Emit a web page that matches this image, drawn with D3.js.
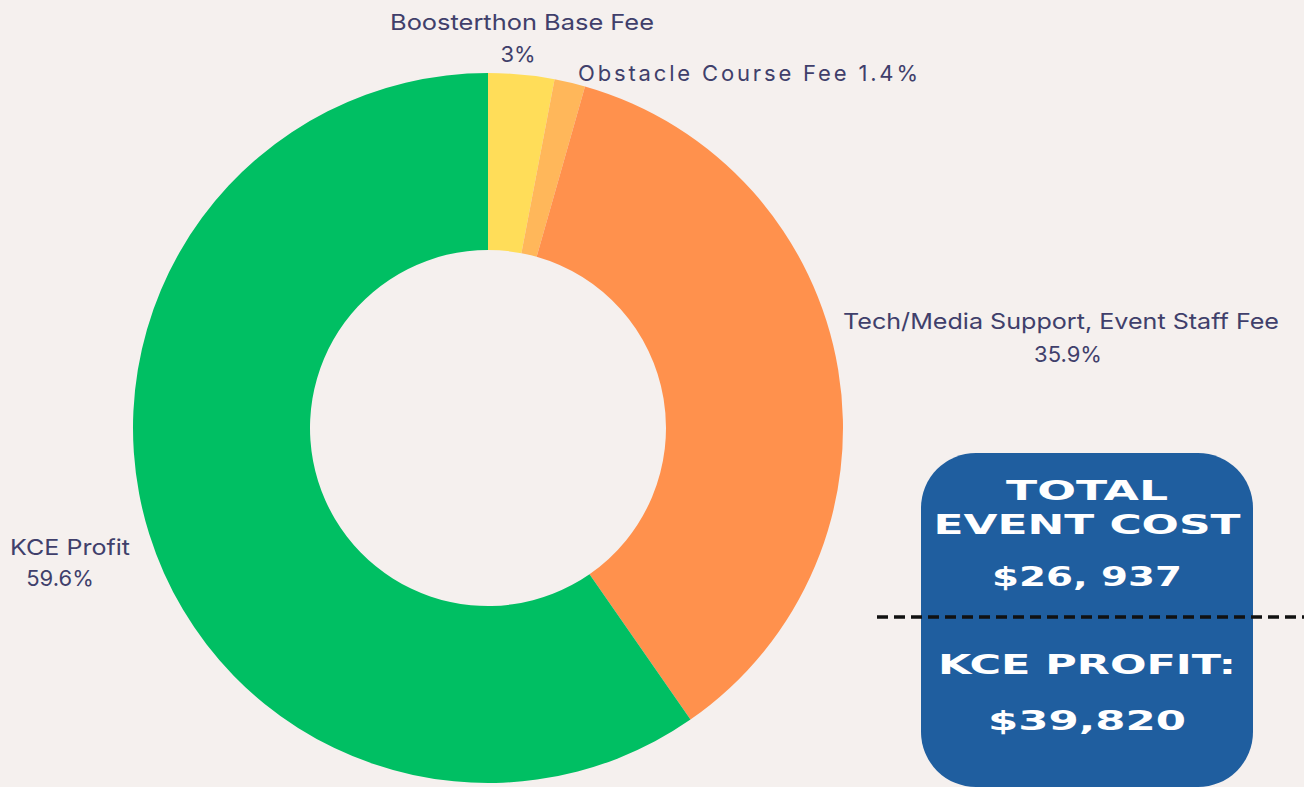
<!DOCTYPE html>
<html lang="en">
<head>
  <meta charset="utf-8">
  <title>Event cost breakdown</title>
  <script src="https://d3js.org/d3.v7.min.js"></script>
  <style>
    html, body { margin: 0; padding: 0; background: #f5f0ee; }
    svg { display: block; }
  </style>
</head>
<body>
  <svg id="chart"></svg>
  <script>
  // slice data, clockwise from 12 o'clock
  const categories = ["Boosterthon Base Fee", "Obstacle Course Fee", "Tech/Media Support, Event Staff Fee", "KCE Profit"];
  const shares = [3, 1.4, 35.9, 59.6];
  const sliceColors = ["#ffdd59", "#ffb75a", "#ff914d", "#00bf63"];

  const summaryLines = ["TOTAL", "EVENT COST", "$26, 937", "KCE PROFIT:", "$39,820"];

  const W = 1304, H = 787;
  const cx = 488, cy = 428, outerR = 355, innerR = 178;
  const labelColor = "#403f6b";

  const svg = d3.select("#chart").attr("width", W).attr("height", H);
  svg.append("rect").attr("width", W).attr("height", H).attr("fill", "#f5f0ee");

  const pie = d3.pie().sort(null).value(d => d);
  const arc = d3.arc().innerRadius(innerR).outerRadius(outerR);
  const color = d3.scaleOrdinal().domain(categories).range(sliceColors);

  const g = svg.append("g").attr("transform", `translate(${cx},${cy})`);
  g.selectAll("path")
    .data(pie(shares))
    .join("path")
    .attr("d", arc)
    .attr("fill", (d, i) => color(categories[i]));

  // slice labels
  const fmt = v => v + "%";
  const labels = svg.append("g")
    .attr("font-family", "Inter, 'Open Sans', sans-serif")
    .attr("fill", labelColor)
    .attr("font-size", 22);

  labels.append("text").attr("x", 522).attr("y", 30).attr("text-anchor", "middle")
    .attr("textLength", 264).attr("lengthAdjust", "spacingAndGlyphs")
    .text(categories[0]);
  labels.append("text").attr("x", 518).attr("y", 62).attr("text-anchor", "middle")
    .text(fmt(shares[0]));

  labels.append("text").attr("x", 578).attr("y", 81)
    .attr("textLength", 340).attr("lengthAdjust", "spacing")
    .text(categories[1] + " " + fmt(shares[1]));

  labels.append("text").attr("x", 1061).attr("y", 329).attr("text-anchor", "middle")
    .attr("textLength", 436).attr("lengthAdjust", "spacingAndGlyphs")
    .text(categories[2]);
  labels.append("text").attr("x", 1068).attr("y", 362).attr("text-anchor", "middle")
    .text(fmt(shares[2]));

  labels.append("text").attr("x", 70).attr("y", 555).attr("text-anchor", "middle")
    .attr("textLength", 120).attr("lengthAdjust", "spacingAndGlyphs")
    .text(categories[3]);
  labels.append("text").attr("x", 60).attr("y", 586).attr("text-anchor", "middle")
    .text(fmt(shares[3]));

  // summary card
  svg.append("rect")
    .attr("x", 921).attr("y", 453).attr("width", 332).attr("height", 334)
    .attr("rx", 55).attr("ry", 55)
    .attr("fill", "#1f5e9f");

  svg.append("line")
    .attr("x1", 877).attr("x2", 1304).attr("y1", 617).attr("y2", 617)
    .attr("stroke", "#111").attr("stroke-width", 3.5)
    .attr("stroke-dasharray", "11,6");

  const summaryY = [500, 534, 586, 674, 730];
  const summaryW = [162, 307, 190, 298, 198];
  svg.append("g")
    .attr("font-family", "'DejaVu Sans', sans-serif")
    .attr("font-weight", "bold")
    .attr("font-size", 27)
    .attr("fill", "#ffffff")
    .selectAll("text")
    .data(summaryLines)
    .join("text")
    .attr("x", 1087)
    .attr("y", (d, i) => summaryY[i])
    .attr("text-anchor", "middle")
    .attr("textLength", (d, i) => summaryW[i])
    .attr("lengthAdjust", "spacingAndGlyphs")
    .text(d => d);
  </script>
</body>
</html>
